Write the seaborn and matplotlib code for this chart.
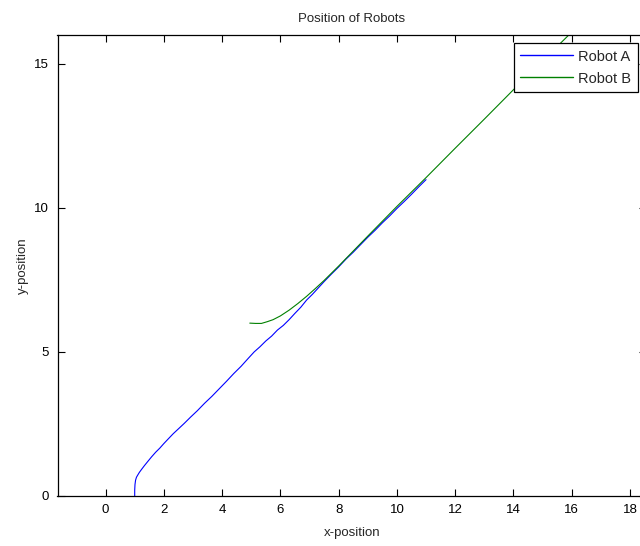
import matplotlib
matplotlib.use("Agg")
import matplotlib.pyplot as plt
import seaborn as sns
import pandas as pd

# Robot A (blue) trajectory
robot_a_x = [1.00, 1.00, 1.01, 1.03, 1.06, 1.10, 1.16, 1.24, 1.33, 1.45, 1.58, 1.72,
             1.86, 2.00, 2.15, 2.32, 2.50, 2.70, 2.92, 3.15, 3.40, 3.65, 3.90, 4.15,
             4.40, 4.65, 4.90, 5.10, 5.30, 5.50, 5.70, 5.90, 6.10, 6.30, 6.50, 6.70,
             6.90, 7.10, 7.30, 7.50, 7.75, 8.00, 8.25, 8.50, 8.75, 9.00, 9.25, 9.50,
             9.75, 10.00, 10.25, 10.50, 10.75, 11.00]
robot_a_y = [0.00, 0.20, 0.40, 0.55, 0.65, 0.72, 0.82, 0.93, 1.05, 1.20, 1.36, 1.52,
             1.66, 1.82, 1.98, 2.16, 2.33, 2.52, 2.74, 2.96, 3.22, 3.46, 3.72, 3.98,
             4.25, 4.50, 4.78, 5.00, 5.18, 5.38, 5.55, 5.76, 5.92, 6.12, 6.34, 6.55,
             6.80, 7.00, 7.22, 7.44, 7.70, 7.95, 8.22, 8.46, 8.72, 8.98, 9.22, 9.48,
             9.72, 9.98, 10.22, 10.47, 10.73, 10.98]

# Robot B (green) trajectory
robot_b_x = [4.95, 5.15, 5.35, 5.55, 5.75, 6.00, 6.30, 6.60, 6.90, 7.20, 7.50, 8.00,
             9.00, 10.00, 11.00, 12.00, 13.00, 14.00, 15.00, 16.00]
robot_b_y = [6.00, 5.99, 5.99, 6.05, 6.12, 6.25, 6.45, 6.68, 6.93, 7.20, 7.48, 7.98,
             9.02, 10.05, 11.05, 12.07, 13.08, 14.10, 15.10, 16.10]

x_ticks = [0, 2, 4, 6, 8, 10, 12, 14, 16, 18]
y_ticks = [0, 5, 10, 15]

df = pd.concat([
    pd.DataFrame({"x": robot_a_x, "y": robot_a_y, "robot": "Robot A", "order": range(len(robot_a_x))}),
    pd.DataFrame({"x": robot_b_x, "y": robot_b_y, "robot": "Robot B", "order": range(len(robot_b_x))}),
])

sns.set_theme(style="white")
plt.rcParams["font.family"] = ["Liberation Sans", "DejaVu Sans"]

fig = plt.figure(figsize=(6.40, 5.46), dpi=100)
ax = fig.add_axes([57.5 / 640, 50 / 546, (646 - 57.5) / 640, (496 - 35) / 546])

sns.lineplot(data=df, x="x", y="y", hue="robot", sort=False, estimator=None,
             palette={"Robot A": "#0000ff", "Robot B": "#008000"},
             linewidth=0.8, ax=ax)

ax.set_xlim(-1.65, 18.55)
ax.set_ylim(0, 16)
ax.set_xticks(x_ticks)
ax.set_yticks(y_ticks)
ax.tick_params(direction="in", length=5, width=0.8, color="black",
               top=True, right=True, bottom=True, left=True,
               labelsize=9.5, labelcolor="black", pad=6)
for s in ax.spines.values():
    s.set_color("black")
    s.set_linewidth(0.9)

ax.set_title("Position of Robots", fontsize=9.5, pad=9)
ax.set_xlabel("x-position", fontsize=9.5, labelpad=8)
ax.set_ylabel("y-position", fontsize=9.5, labelpad=4)

leg = ax.legend(loc="upper right", bbox_to_anchor=(638 / 640, (546 - 43) / 546),
                bbox_transform=fig.transFigure, fontsize=10.5, frameon=True,
                fancybox=False, shadow=False, borderpad=0.45, handlelength=3.6,
                handletextpad=0.4, labelspacing=0.55, borderaxespad=0, framealpha=1)
leg.get_frame().set_edgecolor("black")
leg.get_frame().set_linewidth(0.9)
leg.set_zorder(10)
for line in leg.get_lines():
    line.set_linewidth(1.0)

fig.savefig("out.png", dpi=100)
